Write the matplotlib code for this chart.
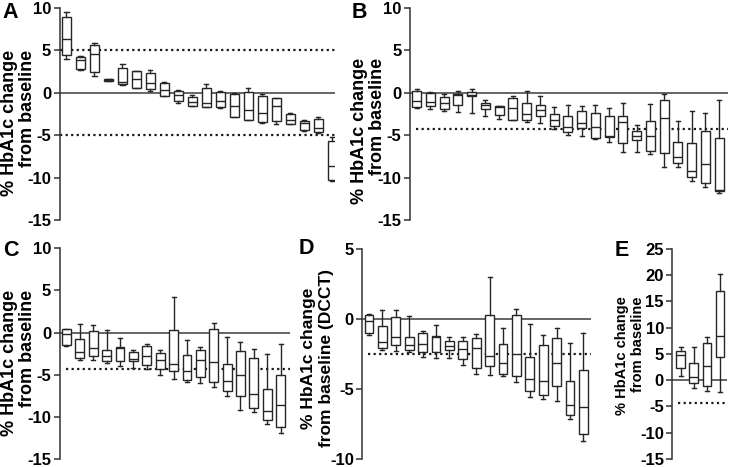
import matplotlib
matplotlib.use("Agg")
import matplotlib.pyplot as plt

plt.rcParams['font.family'] = ['Liberation Sans', 'DejaVu Sans']
plt.rcParams['font.weight'] = 'bold'

# Panel A: box stats (whisker high, Q3, median, Q1, whisker low)
A_hi = [9.5, 4.33, 5.9, 1.65, 3.44, 2.6, 2.7, 1.25, 0.3, -0.3, 1.02, 0.27, -0.04, 0.55, -0.16, -0.62, -2.34, -3.2, -2.89, -5.2]
A_q3 = [8.95, 4.26, 5.67, 1.6, 2.9, 2.54, 2.3, 1.13, 0.23, -0.47, 0.62, 0.12, -0.16, 0.12, -0.39, -0.62, -2.5, -3.28, -3.13, -5.7]
A_med = [6.4, 3.83, 4.53, 1.5, 1.33, 1.6, 1.2, 0.3, -0.27, -1.13, -1.25, -1.02, -1.6, -2.0, -2.34, -1.6, -3.17, -3.56, -4.18, -8.68]
A_q1 = [4.4, 2.78, 2.46, 1.4, 1.02, 0.62, 0.5, -0.35, -0.94, -1.56, -1.64, -1.72, -2.8, -3.16, -3.5, -3.28, -3.63, -4.38, -4.65, -10.3]
A_lo = [3.95, 2.66, 1.99, 1.35, 0.9, 0.55, 0.23, -0.4, -1.2, -1.6, -1.7, -1.8, -2.82, -3.2, -3.6, -3.67, -3.63, -4.53, -4.7, -10.4]

# Panel B
B_hi = [0.5, 0.08, -0.16, 0.27, 0.39, -0.82, -1.6, -0.43, 0.27, -0.39, -1.68, -1.44, -1.6, -1.44, -1.75, -1.25, -3.78, -1.29, -0.16, -3.3, -2.18, -2.37, -0.9]
B_q3 = [0.2, -0.08, -0.47, -0.16, 0.08, -1.25, -1.61, -0.58, -1.2, -1.44, -2.46, -2.7, -2.18, -2.42, -2.77, -2.73, -4.52, -3.35, -0.86, -5.77, -5.88, -4.48, -5.34]
B_med = [-0.94, -1.05, -1.2, -0.3, -0.23, -1.4, -1.73, -1.83, -2.46, -2.03, -3.24, -3.98, -3.55, -3.98, -5.15, -3.5, -5.1, -5.15, -3.0, -7.52, -9.24, -8.34, -11.46]
B_q1 = [-1.68, -1.6, -1.87, -1.4, -0.39, -1.91, -2.62, -3.2, -3.16, -2.77, -3.86, -4.64, -4.13, -5.3, -5.22, -5.93, -5.6, -6.9, -7.13, -8.22, -9.9, -10.6, -11.58]
B_lo = [-1.8, -1.95, -2.14, -2.3, -2.42, -2.77, -3.05, -3.2, -3.4, -3.55, -4.25, -4.95, -5.15, -5.5, -5.85, -7.0, -7.0, -7.25, -8.73, -8.73, -10.4, -11.07, -11.85]

# Panel C
C_hi = [0.47, 0.98, 0.86, 0.35, -0.67, -2.08, -1.38, -2.04, 4.21, -0.9, -1.69, 1.1, -0.55, -1.06, -1.93, -2.51, -1.34]
C_q3 = [0.39, -0.79, 0.15, -2.04, -1.73, -2.32, -1.61, -2.4, 0.31, -2.68, -2.04, 0.39, -3.7, -2.16, -3.03, -6.73, -5.04]
C_med = [-0.12, -2.36, -1.85, -2.83, -1.81, -3.15, -2.72, -3.23, -3.7, -4.6, -3.23, -3.54, -5.7, -5.0, -7.28, -9.29, -8.62]
C_q1 = [-1.42, -3.03, -2.72, -3.42, -3.34, -3.34, -3.82, -4.33, -4.6, -5.67, -5.28, -5.82, -6.93, -7.56, -8.89, -10.39, -11.25]
C_lo = [-1.65, -3.23, -3.27, -3.66, -3.93, -4.25, -4.33, -5.08, -5.47, -5.9, -5.99, -6.46, -7.52, -9.17, -9.41, -10.83, -11.9]

# Panel D (DCCT)
D_hi = [0.33, 0.66, 0.62, 0.24, -0.85, -0.43, -1.32, -1.32, -1.09, 3.0, -0.62, 0.73, -0.38, -1.16, -0.66, -1.68, -0.97]
D_q3 = [0.31, -0.52, 0.17, -1.32, -0.99, -1.2, -1.54, -1.54, -1.37, 0.26, -1.8, 0.31, -2.74, -1.84, -1.39, -4.4, -3.62]
D_med = [-0.12, -1.63, -1.3, -1.84, -1.75, -1.28, -1.91, -2.13, -2.1, -2.67, -3.17, -2.5, -4.28, -4.42, -3.12, -6.12, -6.26]
D_q1 = [-0.97, -2.06, -1.87, -2.22, -2.39, -2.34, -2.2, -2.84, -3.48, -3.36, -3.9, -4.09, -5.11, -5.46, -4.8, -6.86, -8.23]
D_lo = [-1.13, -2.2, -2.27, -2.36, -2.74, -2.77, -2.81, -3.29, -3.9, -3.99, -4.04, -4.51, -5.56, -5.74, -5.84, -7.16, -8.7]

# Panel E
E_hi = [6.25, 6.32, 8.14, 20.2]
E_q3 = [5.63, 3.22, 7.08, 17.0]
E_med = [4.74, 0.57, 2.65, 8.33]
E_q1 = [2.35, -0.57, -1.19, 4.49]
E_lo = [0.83, -1.44, -2.14, -2.27]

LINE1 = "% HbA1c change"
LINE2 = "from baseline"
LINE2_D = "from baseline (DCCT)"

W, H = 731, 467
fig = plt.figure(figsize=(W / 100, H / 100), dpi=100)

BOX_C = '#262626'


def add_axes_px(left, right, top, bottom):
    return fig.add_axes([left / W, 1 - bottom / H, (right - left) / W, (bottom - top) / H])


def draw_panel(ax, hi, q3, med, q1, lo, xlim, ylim, yticks, thresholds, dot_start):
    stats = [dict(whislo=l, q1=a, med=m, q3=b, whishi=h, fliers=[])
             for h, b, m, a, l in zip(hi, q3, med, q1, lo)]
    pos = list(range(1, len(stats) + 1))
    ax.bxp(stats, positions=pos, widths=0.66, capwidths=0.3,
           patch_artist=True, showfliers=False, manage_ticks=False,
           boxprops=dict(facecolor='white', edgecolor=BOX_C, linewidth=1.0),
           whiskerprops=dict(color=BOX_C, linewidth=1.0),
           capprops=dict(color=BOX_C, linewidth=1.0),
           medianprops=dict(color=BOX_C, linewidth=1.0),
           zorder=3)
    ax.axhline(0, color='#4a4a4a', linewidth=1.2, zorder=1)
    for t in thresholds:
        ax.hlines(t, dot_start, xlim[1], colors='#1a1a1a', linewidth=1.6,
                  linestyles=(0, (1, 1.5)), zorder=1)
    ax.set_xlim(*xlim)
    ax.set_ylim(*ylim)
    for s in ['top', 'right', 'bottom']:
        ax.spines[s].set_visible(False)
    ax.spines['left'].set_color('#333333')
    ax.spines['left'].set_linewidth(1.1)
    ax.set_xticks([])
    ax.set_yticks(yticks)
    ax.set_yticklabels([str(v) for v in yticks])
    ax.tick_params(axis='y', direction='out', length=4, width=1.1,
                   color='#333333', labelsize=12, pad=2)
    ax.patch.set_alpha(0)


axA = add_axes_px(59.5, 335, 8, 220)
draw_panel(axA, A_hi, A_q3, A_med, A_q1, A_lo, (0.5, 20.2), (-15, 10),
           [10, 5, 0, -5, -10, -15], [5, -5], 0.5)

axB = add_axes_px(409.7, 728, 8, 220)
draw_panel(axB, B_hi, B_q3, B_med, B_q1, B_lo, (0.5, 23.65), (-15, 10),
           [10, 5, 0, -5, -10, -15], [-4.3], 0.95)

axC = add_axes_px(59.5, 290, 248.3, 459)
draw_panel(axC, C_hi, C_q3, C_med, C_q1, C_lo, (0.48, 17.7), (-15, 10),
           [10, 5, 0, -5, -10, -15], [-4.3], 0.95)

axD = add_axes_px(362.3, 590.7, 249, 459)
draw_panel(axD, D_hi, D_q3, D_med, D_q1, D_lo, (0.5, 17.55), (-10, 5),
           [5, 0, -5, -10], [-2.5], 0.95)

axE = add_axes_px(672.3, 727.3, 248.7, 459)
draw_panel(axE, E_hi, E_q3, E_med, E_q1, E_lo, (0.36, 4.56), (-15, 25),
           [25, 20, 15, 10, 5, 0, -5, -10, -15], [-4.3], 0.8)

# y labels: two rotated lines (x1, x2, y, vertical anchor, text2, size)
labels = [(10, 27.5, 50, 'top', LINE2, 13),
          (359.5, 377, 58, 'top', LINE2, 13),
          (10, 27.5, 290, 'top', LINE2, 13),
          (309, 327, 358, 'center', LINE2_D, 12.5),
          (622, 638, 296, 'top', LINE2, 10.5)]
for x1, x2, y, va, text2, size in labels:
    fig.text(x1 / W, 1 - y / H, LINE1, rotation=90, ha='center', va=va,
             fontsize=size, fontweight='bold')
    fig.text(x2 / W, 1 - y / H, text2, rotation=90, ha='center', va=va,
             fontsize=size, fontweight='bold')

for x, y, letter in [(10.5, 12, 'A'), (359, 12, 'B'), (11, 250, 'C'),
                     (306, 248, 'D'), (622, 250, 'E')]:
    fig.text(x / W, 1 - y / H, letter, ha='center', va='center',
             fontsize=15.5, fontweight='bold')

fig.savefig('out.png', dpi=100, facecolor='white')
